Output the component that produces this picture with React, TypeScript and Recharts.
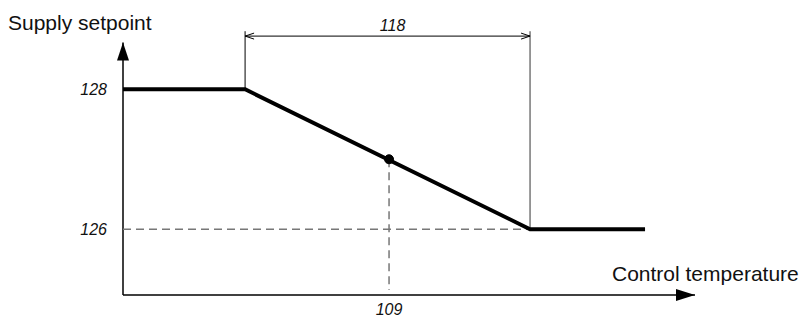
import React from "react";
import {
  ComposedChart,
  Line,
  XAxis,
  YAxis,
  ReferenceLine,
  ReferenceDot,
  Customized,
} from "recharts";

// ---- data ----
const xDomain: [number, number] = [100, 119.35];
const yDomain: [number, number] = [125.06, 128.99];
const curve = [
  { t: 100, s: 128 },
  { t: 104.13, s: 128 },
  { t: 113.77, s: 126 },
  { t: 117.66, s: 126 },
];
const operatingPoint = { t: 109, s: 127.0 };
const yTicks = [126, 128];
const xTicks = [109];
const spanLabel = "118";
const yAxisTop = 128.67;
const dimensionY = 128.76;
const extensionTop = 128.83;
const dashedBottom = 125.13;
const yTitle = "Supply setpoint";
const xTitle = "Control temperature";

const tickFont = {
  fontFamily: "'Liberation Sans', Arial, sans-serif",
  fontStyle: "italic",
  fontSize: 16,
  fill: "#111",
};

const UpArrow = (p: any) => (
  <polygon
    points={`${p.cx},${p.cy} ${p.cx - 6},${p.cy + 18} ${p.cx + 6},${p.cy + 18}`}
    fill="#000"
  />
);
const RightArrow = (p: any) => (
  <polygon
    points={`${p.cx},${p.cy} ${p.cx - 19},${p.cy - 6} ${p.cx - 19},${p.cy + 6}`}
    fill="#000"
  />
);

const DimensionLine = (p: any) => {
  const { x1, y1, x2, y2 } = p;
  const a = Math.min(x1, x2);
  const b = Math.max(x1, x2);
  const y = (y1 + y2) / 2;
  return (
    <g>
      <line x1={a} y1={y} x2={b} y2={y} stroke="#000" strokeWidth={1} />
      <polyline points={`${a + 9},${y - 3} ${a},${y} ${a + 9},${y + 3}`} fill="none" stroke="#000" strokeWidth={1} />
      <polyline points={`${b - 9},${y - 3} ${b},${y} ${b - 9},${y + 3}`} fill="none" stroke="#000" strokeWidth={1} />
      <text x={(a + b) / 2 + 5} y={y - 5} textAnchor="middle" {...tickFont}>
        {spanLabel}
      </text>
    </g>
  );
};

const Titles = () => (
  <g fontFamily="'Liberation Sans', Arial, sans-serif" fontSize={21} fill="#111">
    <text x={8} y={30}>{yTitle}</text>
    <text x={612} y={281}>{xTitle}</text>
  </g>
);

export default function App() {
  return (
    <div style={{ position: "absolute", left: 0, top: 0, width: 799, height: 320, background: "#fff" }}>
      <ComposedChart
        width={799}
        height={320}
        data={curve}
        margin={{ top: 20, right: 104, bottom: 0, left: 0 }}
      >
        <XAxis
          dataKey="t"
          type="number"
          domain={xDomain}
          ticks={xTicks}
          allowDataOverflow
          height={25}
          axisLine={{ stroke: "#000", strokeWidth: 1.5 }}
          tickLine={false}
          tickSize={0}
          tickMargin={9}
          tick={tickFont}
        />
        <YAxis
          dataKey="s"
          type="number"
          domain={yDomain}
          ticks={yTicks}
          allowDataOverflow
          width={123}
          axisLine={false}
          tickLine={false}
          tickSize={0}
          tickMargin={16}
          tick={tickFont}
        />
        {/* y axis with arrow */}
        <ReferenceLine
          segment={[{ x: xDomain[0], y: yDomain[0] }, { x: xDomain[0], y: yAxisTop }]}
          stroke="#000"
          strokeWidth={1.5}
          ifOverflow="visible"
        />
        <ReferenceDot x={xDomain[0]} y={yAxisTop} shape={UpArrow} ifOverflow="visible" />
        <ReferenceDot x={xDomain[1]} y={yDomain[0]} shape={RightArrow} ifOverflow="visible" />
        {/* dashed guides */}
        <ReferenceLine
          segment={[{ x: xDomain[0], y: 126 }, { x: curve[2].t, y: 126 }]}
          stroke="#777"
          strokeWidth={1.5}
          strokeDasharray="8 5"
          ifOverflow="visible"
        />
        <ReferenceLine
          segment={[{ x: operatingPoint.t, y: operatingPoint.s }, { x: operatingPoint.t, y: dashedBottom }]}
          stroke="#777"
          strokeWidth={1.5}
          strokeDasharray="8 5"
          ifOverflow="visible"
        />
        {/* dimension extension lines */}
        <ReferenceLine
          segment={[{ x: curve[1].t, y: extensionTop }, { x: curve[1].t, y: curve[1].s }]}
          stroke="#000"
          strokeWidth={1}
          ifOverflow="visible"
        />
        <ReferenceLine
          segment={[{ x: curve[2].t, y: extensionTop }, { x: curve[2].t, y: curve[2].s }]}
          stroke="#777"
          strokeWidth={1.5}
          ifOverflow="visible"
        />
        <ReferenceLine
          segment={[{ x: curve[1].t, y: dimensionY }, { x: curve[2].t, y: dimensionY }]}
          shape={DimensionLine}
          ifOverflow="visible"
        />
        <Line
          dataKey="s"
          type="linear"
          stroke="#000"
          strokeWidth={4}
          dot={false}
          activeDot={false}
          isAnimationActive={false}
        />
        <ReferenceDot
          x={operatingPoint.t}
          y={operatingPoint.s}
          r={4.5}
          fill="#000"
          stroke="#000"
          ifOverflow="visible"
        />
        <Customized component={Titles} />
      </ComposedChart>
    </div>
  );
}
